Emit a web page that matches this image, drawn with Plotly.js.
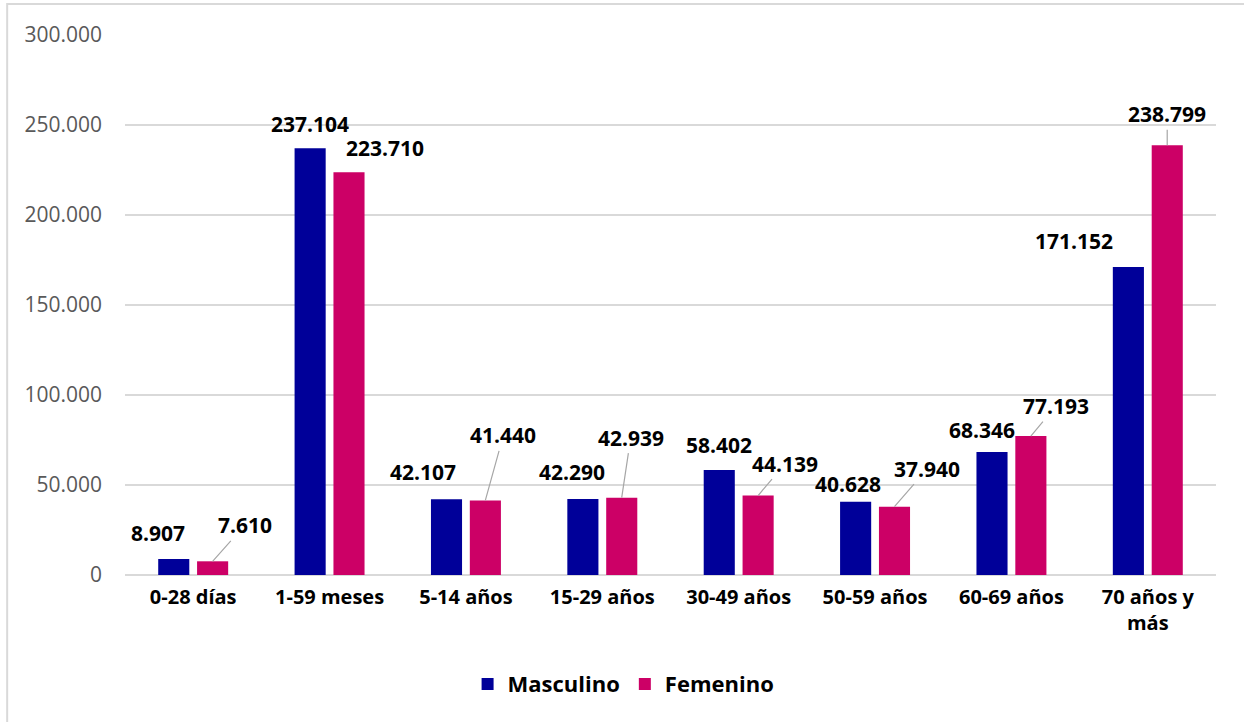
<!DOCTYPE html>
<html>
<head>
<meta charset="utf-8">
<script src="https://cdn.plot.ly/plotly-3.0.1.min.js"></script>
<style>
  html, body { margin: 0; padding: 0; background: #ffffff; }
  #chart { width: 1244px; height: 722px; }
</style>
</head>
<body>
<div id="chart"></div>
<script>
// ---- data ----
const categories = ["0-28 días", "1-59 meses", "5-14 años", "15-29 años", "30-49 años", "50-59 años", "60-69 años", "70 años y<br>más"];
const masculino = [8907, 237104, 42107, 42290, 58402, 40628, 68346, 171152];
const femenino  = [7610, 223710, 41440, 42939, 44139, 37940, 77193, 238799];
const seriesNames = ["Masculino", "Femenino"];
const yTicks = [0, 50000, 100000, 150000, 200000, 250000, 300000];

// ---- label placement (pixel offsets of the label centre from the bar top) ----
const mascOffsets = [[-16,-26],[0,-24],[-24,-27],[-11,-27],[0,-25],[-8,-18],[-10,-22],[-54,-26]];
const femOffsets  = [[32,-36],[36,-24],[18,-65],[9,-60],[27,-32],[33,-38],[25,-30],[0,-31]];
const femLeader   = [true,false,true,true,true,true,true,true];

const colors = { masc: "#000099", fem: "#CC0066" };
const FONT = "'Open Sans', 'Noto Sans', sans-serif";
const slot = 19.4;

function fmt(v) {
  return String(v).replace(/\B(?=(\d{3})+(?!\d))/g, ".");
}

const traces = [
  { type: "bar", name: seriesNames[0], x: categories, y: masculino,
    marker: { color: colors.masc }, hoverinfo: "x+y" },
  { type: "bar", name: seriesNames[1], x: categories, y: femenino,
    marker: { color: colors.fem }, hoverinfo: "x+y" }
];

const labelFont = { family: FONT, size: 21, color: "#000000", weight: 700 };
const annotations = [];
categories.forEach((c, i) => {
  annotations.push({
    x: c, y: masculino[i], xref: "x", yref: "y",
    text: "<b>" + fmt(masculino[i]) + "</b>", showarrow: false,
    xshift: -slot + mascOffsets[i][0], yshift: -mascOffsets[i][1],
    xanchor: "center", yanchor: "middle", font: labelFont
  });
  if (femLeader[i]) {
    annotations.push({
      x: c, y: femenino[i], xref: "x", yref: "y",
      text: "<b>" + fmt(femenino[i]) + "</b>", showarrow: true,
      arrowhead: 0, arrowwidth: 1.2, arrowcolor: "#a6a6a6", standoff: 0,
      ax: femOffsets[i][0], ay: femOffsets[i][1], xshift: slot,
      font: labelFont
    });
  } else {
    annotations.push({
      x: c, y: femenino[i], xref: "x", yref: "y",
      text: "<b>" + fmt(femenino[i]) + "</b>", showarrow: false,
      xshift: slot + femOffsets[i][0], yshift: -femOffsets[i][1],
      xanchor: "center", yanchor: "middle", font: labelFont
    });
  }
});

const layout = {
  width: 1244, height: 722,
  margin: { l: 125, r: 28, t: 35, b: 147 },
  paper_bgcolor: "#ffffff", plot_bgcolor: "#ffffff",
  separators: ",.",
  barmode: "group", bargap: 0.43, bargroupgap: 0.2,
  showlegend: true,
  legend: {
    orientation: "h", x: 0.457, y: -0.202, xanchor: "center", yanchor: "middle",
    font: { family: FONT, size: 22, color: "#000000", weight: 700 },
    itemclick: false, itemdoubleclick: false
  },
  xaxis: {
    type: "category",
    tickfont: { family: FONT, size: 20, color: "#000000", weight: 700 },
    showgrid: false, showline: false, ticks: "", ticklabelstandoff: 8
  },
  yaxis: {
    range: [0, 300000], tickvals: yTicks, tickformat: ",d",
    tickfont: { family: FONT, size: 21, color: "#595959" },
    showgrid: true, gridcolor: "#d9d9d9", gridwidth: 1.5,
    zeroline: true, zerolinecolor: "#d9d9d9", zerolinewidth: 1.5,
    showline: false, ticks: "", ticklabelstandoff: 22
  },
  annotations: annotations,
  shapes: [{
    type: "rect", xref: "paper", yref: "paper",
    x0: -0.108, x1: 1.3, y0: -0.6, y1: 1.0574,
    line: { color: "#d9d9d9", width: 2 }, fillcolor: "rgba(0,0,0,0)", layer: "below"
  }]
};

Plotly.newPlot("chart", traces, layout, { displayModeBar: false, staticPlot: true });
</script>
</body>
</html>
